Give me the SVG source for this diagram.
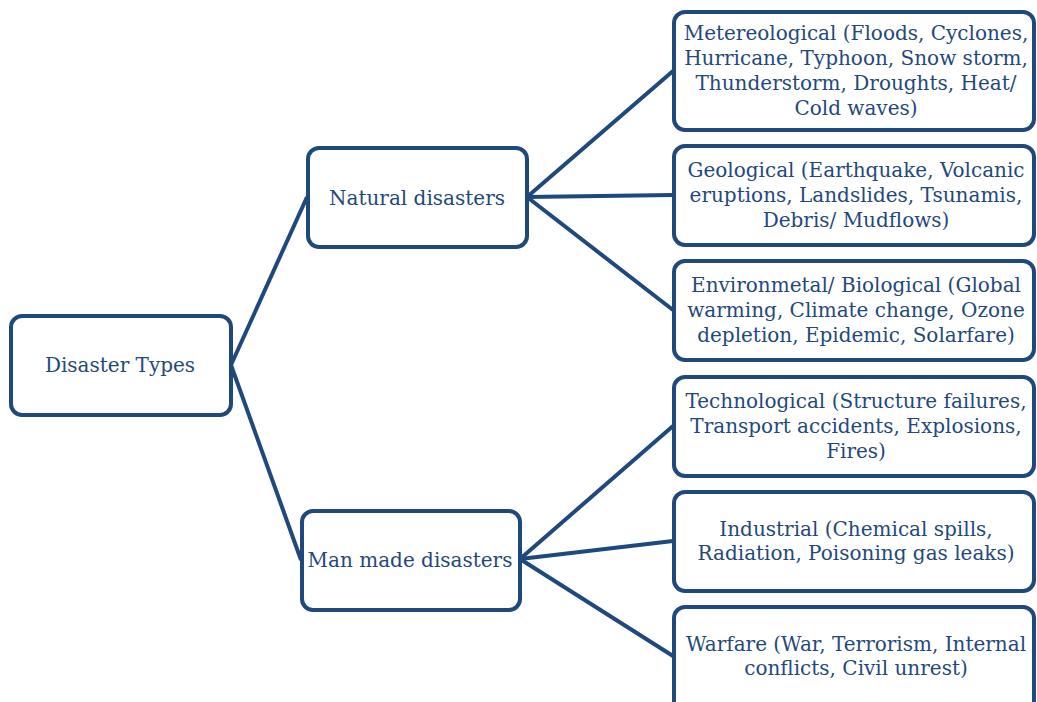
<svg xmlns="http://www.w3.org/2000/svg" width="1037" height="702" viewBox="0 0 1037 702">
<style>
.box{fill:#fff;stroke:#1f497d;stroke-width:4}
.t{font-family:"DejaVu Serif",serif;font-size:20px;fill:#1f497d;text-anchor:middle}
.c{stroke:#1f497d;stroke-width:4;fill:none}
</style>
<rect width="1037" height="702" fill="#fff"/>
<g id="connectors">
<line class="c" x1="231" y1="365" x2="307" y2="197"/>
<line class="c" x1="231" y1="365" x2="301" y2="560"/>
<line class="c" x1="527" y1="197" x2="673" y2="71"/>
<line class="c" x1="527" y1="197" x2="673" y2="195"/>
<line class="c" x1="527" y1="197" x2="673" y2="310"/>
<line class="c" x1="520" y1="559" x2="673" y2="426"/>
<line class="c" x1="520" y1="559" x2="673" y2="541"/>
<line class="c" x1="520" y1="559" x2="673" y2="656"/>
</g>
<g id="root"><rect class="box" x="11" y="316" width="220" height="99" rx="11"/><text class="t" x="120" y="372">Disaster Types</text></g>
<g id="natural"><rect class="box" x="308" y="148" width="219" height="99" rx="11"/><text class="t" x="417" y="205">Natural disasters</text></g>
<g id="manmade"><rect class="box" x="302" y="511" width="218" height="99" rx="11"/><text class="t" x="410" y="567">Man made disasters</text></g>
<g id="meteo"><rect class="box" x="674" y="12" width="360" height="118" rx="11"/>
<text class="t" x="856" y="40">Metereological (Floods, Cyclones,</text>
<text class="t" x="856" y="65">Hurricane, Typhoon, Snow storm,</text>
<text class="t" x="856" y="90">Thunderstorm, Droughts, Heat/</text>
<text class="t" x="856" y="115">Cold waves)</text></g>
<g id="geo"><rect class="box" x="674" y="146" width="360" height="99" rx="11"/>
<text class="t" x="856" y="177">Geological (Earthquake, Volcanic</text>
<text class="t" x="856" y="202">eruptions, Landslides, Tsunamis,</text>
<text class="t" x="856" y="227">Debris/ Mudflows)</text></g>
<g id="env"><rect class="box" x="674" y="261" width="360" height="99" rx="11"/>
<text class="t" x="856" y="292">Environmetal/ Biological (Global</text>
<text class="t" x="856" y="317">warming, Climate change, Ozone</text>
<text class="t" x="856" y="342">depletion, Epidemic, Solarfare)</text></g>
<g id="tech"><rect class="box" x="674" y="377" width="360" height="99" rx="11"/>
<text class="t" x="856" y="408">Technological (Structure failures,</text>
<text class="t" x="856" y="433">Transport accidents, Explosions,</text>
<text class="t" x="856" y="458">Fires)</text></g>
<g id="industrial"><rect class="box" x="674" y="492" width="360" height="99" rx="11"/>
<text class="t" x="856" y="536">Industrial (Chemical spills,</text>
<text class="t" x="856" y="560">Radiation, Poisoning gas leaks)</text></g>
<g id="warfare"><rect class="box" x="674" y="607" width="360" height="110" rx="11"/>
<text class="t" x="856" y="651">Warfare (War, Terrorism, Internal</text>
<text class="t" x="856" y="675">conflicts, Civil unrest)</text></g>
</svg>
